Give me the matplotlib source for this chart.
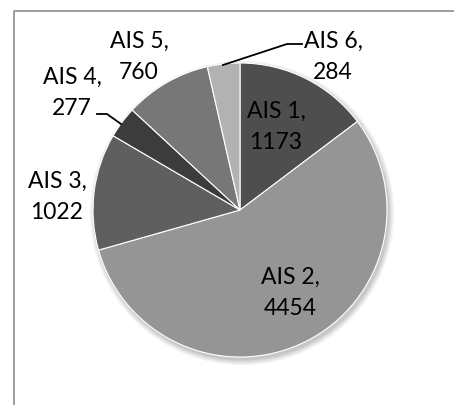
import matplotlib.pyplot as plt

labels = ["AIS 1", "AIS 2", "AIS 3", "AIS 4", "AIS 5", "AIS 6"]
counts = [1173, 4454, 1022, 277, 760, 284]
colors = ["#4e4e4e", "#959595", "#5f5f5f", "#3c3c3c", "#777777", "#b2b2b2"]

# label centres in pixels (x, y from top) and leader lines
label_pos = [(276, 127), (290, 293), (57, 197), (72, 93), (139, 57), (333, 57)]
leaders = {5: [(223, 66), (287, 45), (302, 45)],
           3: [(97, 115), (107, 115), (121, 125)]}

W, H = 454, 406
fig = plt.figure(figsize=(W / 100, H / 100), dpi=100)
ax = fig.add_axes([0, 0, 1, 1])

# frame (only left and top edges are visible in the crop)
ax.plot([13.5, 13.5, W + 5], [-5, H - 11.5, H - 11.5], color="#8c8c8c", lw=1.2)

cx, cy, r = 240, H - 211, 147

# soft shadow
for i, a in enumerate([0.05, 0.05, 0.06, 0.07]):
    ax.pie([1], colors=["black"], radius=r + 5 - i * 1.5, center=(cx + 2, cy - 3),
           wedgeprops=dict(alpha=a, linewidth=0), frame=True)

ax.pie(counts, colors=colors, radius=r, center=(cx, cy), startangle=90,
       counterclock=False, frame=True,
       wedgeprops=dict(edgecolor="white", linewidth=0.8))
ax.set_xlim(0, W)
ax.set_ylim(0, H)
ax.axis("off")

for i, (lab, val) in enumerate(zip(labels, counts)):
    x, y = label_pos[i]
    ax.text(x, H - y, f"{lab},\n{val}", ha="center", va="center",
            fontsize=16.5, family="Lato", color="black", linespacing=1.55)

for pts in leaders.values():
    ax.plot([p[0] for p in pts], [H - p[1] for p in pts], color="black", lw=1.3)

fig.savefig("out.png", dpi=100)
